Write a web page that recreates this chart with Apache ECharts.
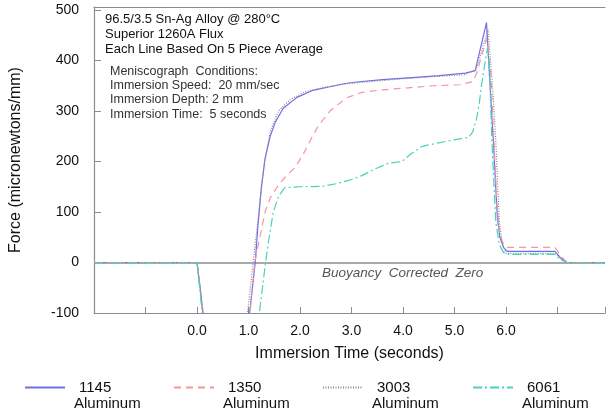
<!DOCTYPE html>
<html><head><meta charset="utf-8">
<script src="https://cdn.jsdelivr.net/npm/echarts@6/dist/echarts.min.js"></script>
<style>html,body{margin:0;padding:0;background:#fff}#c{width:608px;height:412px}</style>
</head><body><div id="c"></div>
<script>
// ---- data (time in seconds, force in micronewtons/mm) ----
var seriesNames = ['1145', '1350', '3003', '6061'];
var legendSub = 'Aluminum';
var xTickLabels = [0, 1, 2, 3, 4, 5, 6];
var yTickLabels = [-100, 0, 100, 200, 300, 400, 500];

var al1145 = [[-2,0],[0,0],[0.06,-50],[0.115,-100],[0.16,-200],[0.95,-200],[1.02,-100],[1.13,0],[1.18,70],[1.25,150],[1.32,205],[1.42,250],[1.52,278],[1.67,305],[1.94,327],[2.25,341],[2.58,348],[2.9,355],[3.15,358],[3.6,362],[4.17,366],[4.7,370],[5.21,375],[5.4,380],[5.62,475],[5.69,348],[5.75,245],[5.83,90],[5.88,50],[5.95,30],[6.02,22],[6.95,22],[7.05,10],[7.18,0],[7.92,0]];
var al1350 = [[-2,0],[0,0],[0.06,-50],[0.12,-100],[0.17,-200],[0.95,-200],[1.03,-100],[1.12,0],[1.2,40],[1.27,75],[1.33,103],[1.42,128],[1.55,149],[1.7,168],[1.9,188],[2.05,212],[2.2,242],[2.35,270],[2.58,300],[2.9,326],[3.2,337],[3.6,342],[4.1,346],[4.6,350],[5.1,352],[5.35,358],[5.43,375],[5.5,400],[5.62,443],[5.7,380],[5.76,250],[5.82,120],[5.87,60],[5.93,40],[6.02,30],[6.95,30],[7.05,15],[7.18,0],[7.92,0]];
var al3003 = [[-2,0],[0,0],[0.06,-50],[0.115,-100],[0.16,-200],[0.92,-200],[0.98,-100],[1.09,0],[1.2,100],[1.31,200],[1.43,262],[1.58,300],[1.8,322],[2.1,338],[2.5,348],[3.0,355],[4.0,364],[5.2,372],[5.42,382],[5.65,462],[5.75,330],[5.8,240],[5.87,80],[5.92,40],[6.0,18],[6.95,18],[7.05,8],[7.18,0],[7.92,0]];
var al6061 = [[-2,0],[0,0],[0.05,-50],[0.1,-100],[0.15,-200],[1.1,-200],[1.21,-100],[1.33,0],[1.4,50],[1.48,100],[1.58,130],[1.7,148],[2.0,150],[2.44,151],[2.7,156],[2.96,163],[3.2,172],[3.45,185],[3.73,197],[3.98,200],[4.15,215],[4.37,230],[4.69,237],[5.0,243],[5.27,248],[5.35,258],[5.42,282],[5.48,316],[5.53,356],[5.6,401],[5.64,425],[5.68,380],[5.72,250],[5.8,80],[5.87,35],[5.95,20],[6.05,16],[6.95,16],[7.05,6],[7.18,0],[7.92,0]];

var seriesData = [al1145, al1350, al3003, al6061];
var colors = ['#6e6ef0', '#f7949c', '#8a8a8a', '#48d2be'];
var dashes = ['solid', [7,5], [1,1.5], [9,3,2,3]];

var FONT = 'Liberation Sans, Arial, sans-serif';
var chart = echarts.init(document.getElementById('c'), null, {renderer:'canvas'});

var series = seriesNames.map(function(n, i){
  var s = {
    name: n, type: 'line', data: seriesData[i], symbol: 'none', clip: true,
    xAxisIndex: 0, yAxisIndex: 0,
    lineStyle: {color: colors[i], width: 1.2, type: dashes[i]},
    itemStyle: {color: colors[i]},
    z: 3 + i
  };
  if (i === 0) {
    s.markLine = {silent: true, symbol: ['none','none'], label: {show:false},
      lineStyle: {color:'#8c8c8c', width:1.5, type:'solid'},
      data: [{yAxis: 0}], z: 1};
  }
  return s;
});

var legendLeft = [19, 168, 317, 467];
var legends = seriesNames.map(function(n, i){
  return {
    data: [n], left: legendLeft[i], top: 375, itemWidth: 40, itemHeight: 14,
    orient: 'horizontal', selectedMode: false,
    itemStyle: {color: 'rgba(0,0,0,0)', borderColor: 'rgba(0,0,0,0)', borderWidth: 0},
    textStyle: {fontFamily: FONT, fontSize: 15, color: '#111', padding: [0,0,0,9]}
  };
});

var graphics = [
  {type:'text', left:105, top:12, style:{text:'96.5/3.5 Sn-Ag Alloy @ 280°C\nSuperior 1260A Flux\nEach Line Based On 5 Piece Average', font:'13px '+FONT, fill:'#111', lineHeight:15}},
  {type:'text', left:110, top:64, style:{text:'Meniscograph  Conditions:\nImmersion Speed:  20 mm/sec\nImmersion Depth: 2 mm\nImmersion Time:  5 seconds', font:'12.5px '+FONT, fill:'#333', lineHeight:14.4}},
  {type:'text', left:322, top:266, style:{text:'Buoyancy  Corrected  Zero', font:'italic 13.5px '+FONT, fill:'#555'}}
];
legendLeft.forEach(function(l){
  graphics.push({type:'text', left: l + 55, top: 396, style:{text: legendSub, font:'15px '+FONT, fill:'#111'}});
});

chart.setOption({
  animation: false,
  backgroundColor: '#fff',
  grid: {left: 93, right: 0, top: 7, bottom: 99},
  legend: legends,
  graphic: graphics,
  xAxis: [{
    type: 'value', min: -2, max: 7.92, interval: 1,
    name: 'Immersion Time (seconds)', nameLocation: 'middle', nameGap: 33,
    nameTextStyle: {fontFamily: FONT, fontSize: 16, color: '#111'},
    axisLine: {show: true, onZero: false, lineStyle: {color: '#8c8c8c', width: 1.2}},
    axisTick: {show: true, inside: true, length: 6, lineStyle: {color: '#8c8c8c'}},
    axisLabel: {margin: 11, fontFamily: FONT, fontSize: 14, color: '#111',
      formatter: function(v){ return xTickLabels.indexOf(v) >= 0 ? v.toFixed(1) : ''; }},
    splitLine: {show: false}
  }, {
    type: 'value', min: -2, max: 7.92, position: 'top',
    axisLine: {show: true, onZero: false, lineStyle: {color: '#8c8c8c', width: 1.2}},
    axisTick: {show: false}, axisLabel: {show: false}, splitLine: {show: false}
  }],
  yAxis: {
    type: 'value', min: -100, max: 506, interval: 100,
    name: 'Force (micronewtons/mm)', nameLocation: 'middle', nameGap: 70,
    nameTextStyle: {fontFamily: FONT, fontSize: 16, color: '#111'},
    axisLine: {show: true, onZero: false, lineStyle: {color: '#8c8c8c', width: 1.2}},
    axisTick: {show: true, inside: true, length: 7, lineStyle: {color: '#8c8c8c'}},
    axisLabel: {margin: 15, fontFamily: FONT, fontSize: 14, color: '#111',
      formatter: function(v){ return yTickLabels.indexOf(v) >= 0 ? String(v) : ''; }},
    splitLine: {show: false}
  },
  series: series
});
</script>
</body></html>
